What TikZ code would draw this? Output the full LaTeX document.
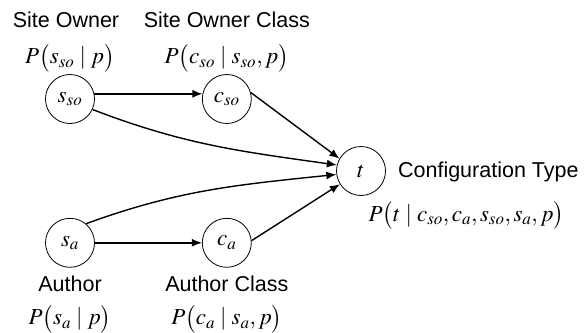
\documentclass[tikz,border=0pt]{standalone}
\usepackage{mathptmx}
\usepackage[no-math]{fontspec}
\setmainfont{Liberation Serif}
\setsansfont{Liberation Sans}
\usetikzlibrary{arrows.meta}
\usetikzlibrary{positioning}

\tikzset{
  var/.style={draw, circle, line width=0.8pt, minimum size=49pt, inner sep=0pt,
    font=\fontsize{23}{27}\selectfont},
  lbl/.style={font=\sffamily\fontsize{21.5}{25}\selectfont, inner sep=0pt},
  prob/.style={font=\fontsize{23}{27}\selectfont, inner sep=0pt},
  edge/.style={-{Latex[length=10pt,width=8pt]}, line width=1.4pt},
}

\begin{document}
\begin{tikzpicture}[x=1pt, y=-1pt, node distance=107pt]
    \useasboundingbox (0,0) rectangle (586,332);

    % variables
    \node[var] (sso) at (70,99) {$s_{so}$};
    \node[var, right=of sso] (cso) {$c_{so}$};
    \node[var, below=94pt of sso] (sa) {$s_a$};
    \node[var, right=of sa] (ca) {$c_a$};
    \node[var] (t) at (361,171) {$t$};

    % names and distributions
    \node[prob, above=2pt of sso] (psso) {$P\bigl(s_{so}\mid p\bigr)$};
    \node[lbl, above=16pt of psso, xshift=-4pt] (nsso) {Site Owner};
    \node[prob, above=2pt of cso] (pcso) {$P\bigl(c_{so}\mid s_{so},p\bigr)$};
    \node[lbl, above=16pt of pcso] (ncso) {Site Owner Class};
    \node[lbl, below=8pt of sa] (nsa) {Author};
    \node[prob, below=13pt of nsa] (psa) {$P\bigl(s_a\mid p\bigr)$};
    \node[lbl, below=8pt of ca] (nca) {Author Class};
    \node[prob, below=13pt of nca] (pca) {$P\bigl(c_a\mid s_a,p\bigr)$};
    \node[lbl, anchor=base west] (ntype) at ([xshift=12pt, yshift=-6pt]t.east) {Configuration Type};
    \node[prob, below=20pt of ntype, xshift=-22pt] (ptype)
      {$P\bigl(t\mid c_{so},c_a,s_{so},s_a,p\bigr)$};

    % dependencies
    \draw[edge] (sso.12) -- (cso.168);
    \draw[edge] (cso.15) -- (t.150);
    \draw[edge] (sso.-25) to[out=-21, in=172] (t.166);
    \draw[edge] (sa.50) to[out=20, in=186] (t.188);
    \draw[edge] (sa.east) -- (ca.west);
    \draw[edge] (ca.5) -- (t.212);
\end{tikzpicture}
\end{document}
